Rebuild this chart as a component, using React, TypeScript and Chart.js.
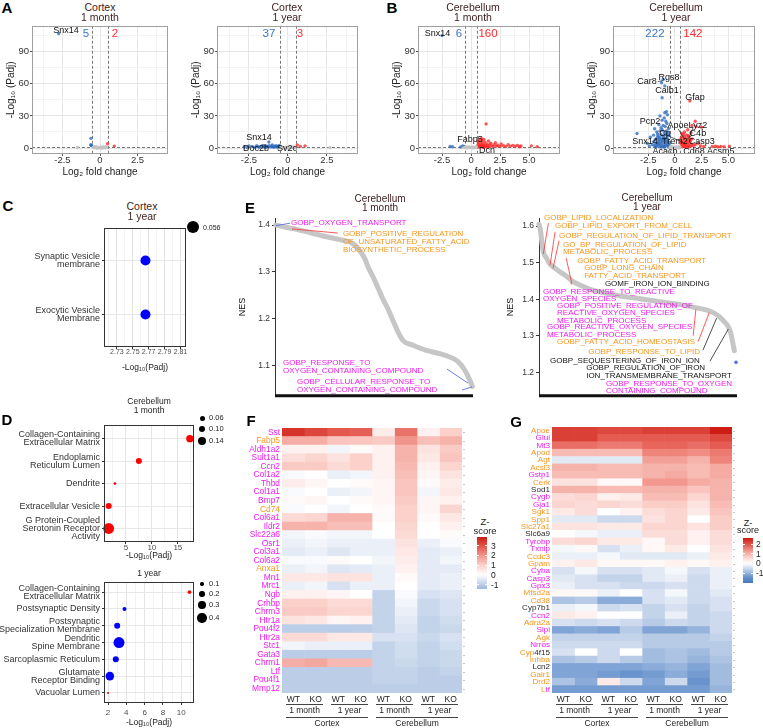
import React, { useEffect, useRef } from 'react';
import { Chart, registerables } from 'chart.js';

Chart.register(...registerables);

const FONT = '"Liberation Sans", Arial, Helvetica, sans-serif';
Chart.defaults.font.family = FONT;
const MAG = '#ee1cee';
const ORA = '#f7961e';
const DARK = '#2a2a2a';
const TITLE = '#3b1d1d';
const BLUE_PT = 'rgba(48,108,188,0.78)';
const RED_PT = 'rgba(255,40,40,0.78)';
const GRAY_PT = '#c4c4c4';
const BLUE_TXT = '#3a78c4';
const RED_TXT = '#ff2d2d';

// ================= A / B : volcano data  [log2FC, -log10 Padj] =================
const A1_GRAY = [[-1.5,0.5],[-0.45,0.2],[-0.4,1.0],[-0.35,0.5],[-0.3,1.2],[-0.25,0.3],[-0.2,0.8],[-0.15,0.1],[-0.1,0.6],[-0.05,0.2],[0,0.4],[0.05,1.0],[0.1,0.1],[0.15,0.7],[0.2,0.3],[0.25,1.1],[0.3,0.5],[0.35,0.2],[0.4,0.9],[0.45,0.4],[-0.2,0],[0.1,0.05]];
const A1_BLUE = [[-2.75,107],[-0.6,9],[-0.62,3],[-0.58,2.5],[-0.55,2.2]];
const A1_RED = [[0.5,4],[0.95,1.8]];

const A2_GRAY = [[-0.45,0.3],[-0.35,0.8],[-0.25,0.2],[-0.15,0.5],[-0.05,0.1],[0.05,0.6],[0.15,0.2],[0.25,0.4],[0.35,0.9],[0.45,0.3],[2.7,0.3],[-0.3,0],[0.1,0]];
const A2_BLUE = [[-2.8,1.0],[-2.5,2.0],[-2.3,1.5],[-2.1,0.8],[-2.0,2.2],[-1.9,1.2],[-1.8,0.7],[-1.7,1.6],[-1.6,2.5],[-1.5,1.0],[-1.45,1.9],[-1.4,0.6],[-1.3,1.3],[-1.22,5.6],[-1.2,2.2],[-1.1,0.9],[-1.05,1.6],[-1.0,2.8],[-0.95,1.1],[-0.9,0.7],[-0.85,1.8],[-0.8,1.3],[-0.75,2.1],[-0.7,0.8],[-0.65,1.5],[-0.6,1.0],[-0.55,2.4],[-0.52,1.2],[-2.6,0.5],[-1.35,1.7]];
const A2_RED = [[0.6,2.8],[0.8,1.5],[1.1,2.0]];

const B1_GRAY = [[-0.45,0.3],[-0.4,0.9],[-0.3,0.5],[-0.2,1.1],[-0.1,0.2],[0,0.7],[0.1,0.4],[0.2,1.0],[0.3,0.2],[0.4,0.6],[0.45,1.2],[-0.35,0.1],[0.15,0.1],[-0.6,0.4]];
const B1_BLUE = [[-2.5,105],[-1.8,1.5],[-1.6,1.2],[-0.9,1.0],[-0.7,2.0],[-0.6,1.3]];
const B1_RED = [[0.55,1.5],[0.6,3.0],[0.65,5.0],[0.7,2.2],[0.75,7.5],[0.8,1.2],[0.85,4.0],[0.9,2.8],[0.95,6.0],[1.0,1.8],[1.05,3.5],[1.1,8.0],[1.15,2.4],[1.2,5.5],[1.3,22.5],[1.25,1.6],[1.35,3.8],[1.4,2.2],[1.5,6.5],[1.55,1.4],[1.6,3.0],[1.7,4.5],[1.8,2.0],[1.9,1.3],[2.0,3.2],[2.1,5.0],[2.2,1.8],[2.3,2.6],[2.5,1.5],[2.6,3.8],[2.8,2.2],[3.0,1.4],[3.2,3.0],[3.4,1.8],[3.6,2.5],[3.8,1.6],[4.0,2.4],[4.2,1.2],[4.3,1.9],[5.2,2.0],[5.7,1.3],[0.7,1.0],[1.0,0.9],[1.4,0.8],[0.58,6.5],[0.9,9.0],[1.1,0.7]];

const B2_GRAY = [[-0.45,0.5],[-0.3,1.2],[-0.2,0.3],[-0.1,0.8],[0,0.2],[0.1,1.0],[0.2,0.4],[0.3,0.9],[0.4,0.1],[-0.4,1.5],[0.45,1.1]];
const B2_BLUE = [[-1.1,64],[-1.25,61],[-0.95,58],[-1.2,47],[-0.8,34],[-0.95,33],[-1.4,30],[-0.7,31],[-1.0,28],[-1.2,26],[-0.85,25],[-1.5,22],[-0.75,23],[-1.1,21],[-0.9,20],[-1.3,19],[-1.9,18],[-0.6,18],[-3.55,13.5],[-2.3,10],[-2.0,12],[-1.7,15],[-1.6,11],[-1.4,16],[-1.2,17],[-1.0,15],[-0.8,16],[-0.65,14],[-0.55,12],[-2.1,3],[-2.0,6],[-1.9,2],[-1.85,8],[-1.8,4],[-1.75,1.5],[-1.7,9],[-1.65,5],[-1.6,2.5],[-1.55,7],[-1.5,3.5],[-1.45,10],[-1.4,1.2],[-1.35,6],[-1.3,4],[-1.25,8.5],[-1.2,2],[-1.15,5.5],[-1.1,11],[-1.05,3],[-1.0,7],[-0.95,1.5],[-0.9,9],[-0.85,4.5],[-0.8,2.2],[-0.75,6.5],[-0.7,3.2],[-0.65,8],[-0.6,1.8],[-0.55,5],[-0.52,2.8],[-1.62,13],[-1.3,12.5],[-0.95,13],[-0.7,11],[-1.8,0.8],[-1.0,0.6],[-0.6,0.9],[-2.4,2],[-2.6,4.5],[-1.25,0.9],[-0.85,12.5],[-1.05,9.5],[-1.45,8.2],[-1.15,7.5],[-0.68,5.8],[-1.55,4.2]];
const B2_RED = [[1.4,44],[1.9,25],[2.0,20],[2.5,19.5],[1.6,21],[1.2,17],[0.9,15],[1.5,14],[0.8,13],[1.1,12],[0.7,11],[1.3,10],[0.6,9.5],[1.0,9],[1.6,8.5],[0.55,8],[0.85,7.5],[1.2,7],[1.45,6.5],[0.65,6],[1.0,5.5],[1.35,5],[0.75,4.5],[1.15,4],[1.55,3.5],[0.6,3],[0.95,2.8],[1.3,2.5],[1.7,2.2],[0.8,2],[1.1,1.7],[1.45,1.5],[0.7,1.2],[1.0,1],[1.25,0.9],[1.9,3],[2.2,4.5],[2.4,2],[2.7,1.5],[3.5,1.5],[3.8,1.8],[4.0,1.2],[4.3,1.5],[4.6,1.3],[5.1,1.8],[0.9,10.5],[1.25,11.5],[0.65,13.5],[1.05,6.2],[0.55,5],[1.4,8],[0.85,3.5]];

const VOLC_Y_MAJOR = [0, 30, 60, 90];
const VOLC_Y_MINOR = [15, 45, 75, 105];

// ================= C / D : enrichment dot plots =================
const C_TERMS = [['Synaptic Vesicle', 'membrane'], ['Exocytic Vesicle', 'Membrane']];
const C_LOGP = [2.766, 2.766];
const C_DIR = ['down', 'down'];

const D1_TERMS = [['Collagen-Containing', 'Extracellular Matrix'], ['Endoplamic', 'Reticulum Lumen'], ['Dendrite'], ['Extracellular Vesicle'], ['G Protein-Coupled', 'Serotonin Receptor', 'Activity']];
const D1_LOGP = [17.3, 7.5, 2.9, 1.7, 1.7];
const D1_RATIO = [0.117, 0.084, 0.005, 0.084, 0.2];
const D1_DIR = ['up', 'up', 'up', 'up', 'up'];

const D2_TERMS = [['Collagen-Containing', 'Extracellular Matrix'], ['Postsynaptic Density'], ['Postsynaptic', 'Specialization Membrane'], ['Dendritic', 'Spine Membrane'], ['Sarcoplasmic Reticulum'], ['Glutamate', 'Receptor Binding'], ['Vacuolar Lumen']];
const D2_LOGP = [10.9, 3.8, 3.0, 3.2, 2.85, 2.2, 2.0];
const D2_RATIO = [0.11, 0.13, 0.23, 0.48, 0.23, 0.36, 0.03];
const D2_DIR = ['up', 'down', 'down', 'down', 'down', 'down', 'up'];

// ================= E : ranked NES curves [rank, NES] =================
const E1_CURVE = [[3,1.400],[35,1.395],[65,1.391],[105,1.384],[155,1.375],[195,1.369],[235,1.360],[255,1.345],[270,1.328],[280,1.310],[295,1.289],[310,1.265],[325,1.241],[340,1.220],[355,1.195],[370,1.171],[385,1.153],[415,1.143],[455,1.132],[495,1.125],[525,1.118],[550,1.108],[570,1.090],[585,1.069],[593,1.055]];
const E1_BLUE = [[2,1.400],[593,1.055]];
const E1_RED = [[51,1.392]];

const E2_CURVE = [[0,1.605],[4,1.591],[7,1.569],[10,1.546],[14,1.526],[22,1.513],[32,1.497],[44,1.488],[62,1.475],[82,1.463],[102,1.448],[122,1.439],[152,1.427],[192,1.418],[242,1.409],[302,1.401],[362,1.393],[422,1.385],[472,1.376],[512,1.367],[537,1.354],[552,1.340],[567,1.323],[574,1.305],[579,1.282],[584,1.259]];
const E2_BLUE = [[589,1.227]];
const E2_RED = [[13,1.524],[33,1.493],[42,1.485],[98,1.444]];

// ================= F / G : heatmaps (z-scores) =================
const HEAT_SAMPLES = ['WT', 'KO', 'WT', 'KO', 'WT', 'KO', 'WT', 'KO'];
const HEAT_AGES = ['1 month', '1 year', '1 month', '1 year'];
const HEAT_REGIONS = ['Cortex', 'Cerebellum'];

const F_GENES = ['Sst','Fabp5','Aldh1a2','Sult1a1','Ccn2','Col1a2','Thbd','Col1a1','Bmp7','Cd74','Col6a1','Ildr2','Slc22a6','Osr1','Col3a1','Col6a2','Anxa1','Mn1','Mrc1','Ngb','Crhbp','Chrm3','Htr1a','Pou4f2','Htr2a','Stc1','Gata3','Chrm1','Ltf','Pou4f1','Mmp12'];
const F_LABEL_KEYS = ['m','o','m','m','m','m','m','m','m','o','m','m','m','m','m','m','o','m','m','m','m','m','m','m','m','m','m','m','m','m','m'];
const F_Z = [
  [3.5, 3.2, 2.9, 2.8, 0.4, 2.5, 0.3, 1.0],
  [1.6, 1.6, 1.2, 1.2, 1.1, 2.0, 1.3, 1.5],
  [0.3, 0.3, -0.2, 0.1, 0.3, 1.5, 0.6, 1.1],
  [0.7, 0.9, 0.6, 1.0, 0.3, 1.5, 0.5, 1.2],
  [1.1, 1.1, 0.8, 1.0, 0.3, 1.4, 0.3, 0.9],
  [-0.1, 0.0, -0.3, -0.2, 0.3, 1.3, 0.2, 0.6],
  [0.4, 0.2, 0.0, 0.1, 0.2, 1.2, 0.1, 0.4],
  [-0.1, 0.0, -0.3, -0.2, 0.2, 1.2, -0.2, 0.5],
  [0.1, 0.2, 0.0, 0.1, 0.2, 1.1, 0.2, 0.3],
  [-0.1, 0.0, -0.2, 0.0, 0.1, 1.0, 0.2, 0.9],
  [0.8, 0.9, 1.5, 1.5, 0.1, 1.0, 0.1, 0.5],
  [1.5, 1.5, 1.3, 1.3, 0.0, 0.9, 0.0, 0.3],
  [-0.2, -0.1, -0.2, -0.2, 0.0, 0.8, 0.0, 0.1],
  [-0.3, -0.2, -0.3, -0.3, -0.3, 0.6, -0.3, -0.1],
  [-0.4, -0.3, -0.5, -0.3, -0.3, 0.5, -0.4, -0.3],
  [-0.1, -0.1, 0.1, 0.0, -0.2, 0.4, -0.4, -0.2],
  [-0.3, -0.2, -0.5, -0.4, -0.3, 0.3, -0.4, -0.4],
  [0.5, 0.5, 0.6, 0.6, -0.3, 0.1, -0.4, -0.3],
  [-0.3, -0.2, -0.6, -0.3, -0.3, 0.0, -0.4, -0.3],
  [0.3, 0.3, 0.2, 0.0, -0.9, -0.1, -0.6, -0.5],
  [1.0, 1.0, 0.8, 0.8, -0.9, -0.2, -0.8, -0.6],
  [1.1, 1.1, 0.9, 0.9, -0.9, -0.3, -0.8, -0.6],
  [0.6, 0.5, 0.2, 0.3, -0.9, -0.4, -0.9, -0.7],
  [-1.0, -1.0, -1.0, -1.0, -0.9, -0.5, -0.9, -0.8],
  [0.8, 0.8, 0.5, 0.5, -0.6, -0.6, -0.8, -0.6],
  [-0.2, -0.3, -0.3, -0.3, -0.9, -0.7, -0.9, -0.7],
  [-1.0, -1.0, -1.0, -1.0, -0.9, -0.7, -0.9, -0.8],
  [1.6, 1.7, 1.4, 1.4, -0.9, -0.8, -0.9, -0.8],
  [-1.0, -1.0, -1.0, -1.0, -0.9, -0.9, -1.0, -0.9],
  [-1.0, -1.0, -1.0, -1.0, -0.9, -0.9, -1.0, -1.0],
  [-1.0, -1.0, -1.0, -1.0, -1.0, -1.0, -1.0, -1.0],
];

const G_GENES = ['Apoe','Glul','Mt3','Apod','Agt','Acsl3','Gstp1','Cerk','Sod1','Cygb','Gja1','Sgk1','Spp1','Slc27a1','Slc6a9','Tyrobp','Txnip','Ccdc3','Gpam','Cyba','Casp3','Gpx3','Mfsd2a','Cd38','Cyp7b1','Ccn2','Adra2a','Slpi','Agk','Nrros','Cyp4f15','Inhba','Lcn2','Galr1','Drd2','Ltf'];
const G_LABEL_KEYS: any[] = ['o','m','m','o','o','o','m','o','k','m','m','o','o','o','k','m','m','o','o','m','m','m','o','o','k','m','o','m','o','m',[['Cyp','o'],['4f15','k']],'o','k','o','o',[['L','o'],['tf','m']]];
const G_Z = [
  [2.2, 2.2, 2.1, 2.1, 2.2, 2.2, 2.2, 2.6],
  [2.2, 2.2, 1.9, 1.9, 1.9, 1.9, 1.9, 2.1],
  [1.7, 1.7, 1.6, 1.6, 1.8, 1.8, 1.7, 1.9],
  [0.9, 0.9, 0.9, 0.9, 1.5, 1.5, 1.4, 1.6],
  [-0.3, -0.3, -0.3, -0.3, 1.2, 1.2, 1.0, 1.5],
  [1.0, 1.0, 0.9, 0.9, 1.0, 1.0, 0.9, 1.1],
  [0.9, 0.9, 0.9, 0.9, 1.0, 1.1, 0.9, 1.1],
  [0.4, 0.4, 0.1, 0.1, 1.3, 1.3, 1.1, 1.0],
  [1.0, 1.0, 0.9, 0.9, 1.0, 1.0, 0.8, 1.0],
  [0.5, 0.6, 0.2, 0.3, 0.9, 0.9, 0.6, 1.0],
  [0.6, 0.5, 0.6, 0.5, 0.7, 0.7, 0.4, 0.9],
  [0.3, 0.5, 0.0, 0.2, 0.5, 0.6, 0.3, 0.8],
  [-0.3, -0.3, -0.5, -0.5, 0.4, 0.6, 0.0, 0.7],
  [0.4, 0.4, 0.3, 0.3, 0.6, 0.6, 0.4, 0.7],
  [0.0, -0.1, -0.2, -0.2, 0.5, 0.5, 0.2, 0.5],
  [0.5, 0.6, 0.3, 0.3, 0.1, 0.5, 0.2, 0.5],
  [-0.1, 0.1, -0.4, -0.2, 0.1, 0.3, 0.0, 0.4],
  [-0.2, -0.2, -0.1, -0.3, -0.3, -0.3, -0.2, 0.3],
  [0.2, 0.3, 0.1, 0.1, 0.1, 0.2, 0.1, 0.2],
  [-0.4, -0.1, -0.4, -0.4, -0.3, -0.1, -0.4, -0.2],
  [-0.3, -0.4, -0.6, -0.6, -0.3, -0.2, -0.5, -0.2],
  [-0.2, -0.4, -0.4, -0.5, -0.5, -0.4, -0.5, -0.2],
  [0.1, 0.1, -0.2, 0.0, -0.4, -0.1, -0.5, -0.3],
  [-0.8, -0.7, -1.1, -1.1, -0.4, -0.3, -0.5, -0.4],
  [-0.2, -0.1, -0.5, -0.4, -0.6, -0.4, -0.6, -0.4],
  [0.3, 0.2, 0.0, 0.0, -0.6, -0.2, -0.6, -0.5],
  [-0.4, -0.5, -0.4, -0.5, -0.7, -0.5, -0.6, -0.5],
  [-1.2, -1.1, -1.2, -0.7, -1.2, -1.2, -1.0, -0.5],
  [-0.6, -0.6, -0.6, -0.6, -0.7, -0.7, -0.7, -0.6],
  [-0.5, -0.5, -0.5, -0.5, -0.7, -0.7, -0.7, -0.7],
  [-0.4, 0.0, -0.5, 0.0, -0.9, -0.8, -0.9, -0.7],
  [-0.8, -0.7, -0.5, -0.7, -0.9, -0.8, -1.0, -0.8],
  [-1.2, -1.2, -1.2, -1.2, -1.1, -1.0, -1.2, -0.9],
  [-1.2, -1.2, -1.3, -1.4, -1.3, -1.1, -1.3, -0.9],
  [-0.8, -1.1, 0.3, -0.5, -1.2, -0.5, -1.4, -0.9],
  [-1.3, -1.3, -1.3, -1.3, -1.3, -1.3, -1.3, -1.0],
];

// ================= helpers =================
const toXY = (arr: number[][]) => arr.map(([x, y]) => ({ x, y }));
const KEY_COLOR: any = { m: MAG, o: ORA, k: DARK };

const DIV_STOPS: [number, number[]][] = [
  [-1, [40, 100, 175]],
  [-0.55, [102, 145, 203]],
  [-0.4, [146, 177, 220]],
  [-0.25, [190, 207, 232]],
  [0, [255, 255, 255]],
  [0.25, [251, 210, 204]],
  [0.5, [242, 152, 143]],
  [0.75, [228, 86, 76]],
  [1, [204, 28, 20]],
];
function zColor(z: number, extent: number) {
  const t = Math.max(-1, Math.min(1, z / extent));
  for (let i = 1; i < DIV_STOPS.length; i++) {
    const [t1, c1] = DIV_STOPS[i];
    if (t <= t1) {
      const [t0, c0] = DIV_STOPS[i - 1];
      const f = (t - t0) / (t1 - t0);
      return `rgb(${c0.map((v, k) => Math.round(v + (c1[k] - v) * f)).join(',')})`;
    }
  }
  return 'rgb(204,28,20)';
}

function framePlugin(color: string) {
  return {
    id: 'frame',
    afterDraw(chart: any) {
      const { ctx, chartArea: a } = chart;
      ctx.save();
      ctx.strokeStyle = color;
      ctx.lineWidth = 1;
      const l = Math.round(a.left) + 0.5, t = Math.round(a.top) + 0.5;
      ctx.strokeRect(l, t, Math.round(a.right) - Math.round(a.left) - 1, Math.round(a.bottom) - Math.round(a.top) - 1);
      ctx.restore();
    },
  };
}

function annotPlugin(items: any[]) {
  const run = (chart: any, layer: string) => {
    const { ctx, chartArea: a, scales } = chart;
    const X = (v: number) => scales.x.getPixelForValue(v);
    const Y = (v: number) => scales.y.getPixelForValue(v);
    ctx.save();
    for (const it of items) {
      if ((it.layer || 'top') !== layer) continue;
      ctx.setLineDash(it.dash || []);
      ctx.strokeStyle = it.color || '#000';
      ctx.lineWidth = it.width || 1;
      if (it.k === 'vline') {
        const p = Math.round(X(it.x)) + 0.5;
        ctx.beginPath(); ctx.moveTo(p, a.top); ctx.lineTo(p, a.bottom); ctx.stroke();
      } else if (it.k === 'hline') {
        const p = Math.round(Y(it.y)) + 0.5;
        ctx.beginPath(); ctx.moveTo(a.left, p); ctx.lineTo(a.right, p); ctx.stroke();
      } else if (it.k === 'baseline') {
        ctx.beginPath(); ctx.moveTo(a.left, a.bottom); ctx.lineTo(a.right, a.bottom); ctx.stroke();
      } else if (it.k === 'seg') {
        ctx.beginPath(); ctx.moveTo(X(it.x1), Y(it.y1)); ctx.lineTo(X(it.x2), Y(it.y2)); ctx.stroke();
      } else if (it.k === 'text') {
        ctx.fillStyle = it.color || '#111';
        ctx.font = `${it.weight || 'normal'} ${it.size || 8}px ${FONT}`;
        ctx.textAlign = it.align || 'left';
        ctx.textBaseline = 'middle';
        it.lines.forEach((l: string, i: number) => ctx.fillText(l, X(it.x), Y(it.y) + i * (it.lh || it.size || 8)));
      }
    }
    ctx.restore();
  };
  return {
    id: 'annot',
    beforeDatasetsDraw(c: any) { run(c, 'below'); },
    afterDraw(c: any) { run(c, 'top'); },
  };
}

const fmtFC = (v: number) => (v === 0 ? '0' : Number.isInteger(v) ? v.toFixed(1) : String(v));

function volcano(o: any) {
  const isXMaj = (v: number) => o.xMajor.includes(v);
  const isYMaj = (v: number) => VOLC_Y_MAJOR.includes(v);
  const dash = { layer: 'below', color: '#555', width: 0.8, dash: [3, 2] };
  const items = [
    { k: 'vline', x: -0.5, ...dash },
    { k: 'vline', x: 0.5, ...dash },
    { k: 'hline', y: 1.3, ...dash },
    ...o.segs.map((s: number[]) => ({ k: 'seg', x1: s[0], y1: s[1], x2: s[2], y2: s[3], color: '#222', width: 0.7 })),
    ...o.labels.map((l: any[]) => ({ k: 'text', x: l[1], y: l[2], lines: [l[0]], color: '#111', size: 9, align: 'center' })),
    { k: 'text', x: o.nDown[1], y: 106.8, lines: [o.nDown[0]], color: BLUE_TXT, size: 11.5, align: 'center' },
    { k: 'text', x: o.nUp[1], y: 106.8, lines: [o.nUp[0]], color: RED_TXT, size: 11.5, align: 'center' },
  ];
  const ds = (d: number[][], c: string) => ({ data: toXY(d), pointRadius: 1.7, pointBackgroundColor: c, pointBorderWidth: 0 });
  const tickFont = { family: FONT, size: 9.5, lineHeight: 1 };
  const gridCol = (isMaj: (v: number) => boolean) => (c: any) => (c.tick && isMaj(c.tick.value) ? '#e6e6e6' : '#f3f3f3');
  const tickCol = (isMaj: (v: number) => boolean) => (c: any) => (c.tick && isMaj(c.tick.value) ? '#555' : 'rgba(0,0,0,0)');
  return {
    type: 'scatter',
    data: { datasets: [ds(o.gray, GRAY_PT), ds(o.blue, BLUE_PT), ds(o.red, RED_PT)] },
    options: {
      responsive: false, animation: false, events: [],
      layout: { autoPadding: false, padding: { left: 0, top: 5, right: o.padRight, bottom: 0 } },
      plugins: { legend: { display: false }, tooltip: { enabled: false } },
      scales: {
        x: {
          type: 'linear', min: o.xMin, max: o.xMax,
          afterBuildTicks: (s: any) => { s.ticks = [...o.xMajor, ...o.xMinor].map((v: number) => ({ value: v })); },
          afterFit: (s: any) => { s.height = 25; },
          ticks: { autoSkip: false, maxRotation: 0, minRotation: 0, padding: 0, color: '#333', font: tickFont, callback: (v: number) => (isXMaj(v) ? fmtFC(v) : '') },
          grid: { color: gridCol(isXMaj), tickLength: 2, tickColor: tickCol(isXMaj) },
          border: { display: false },
          title: { display: true, text: 'Log₂ fold change', color: '#222', font: { family: FONT, size: 10, lineHeight: 1 }, padding: { top: 0, bottom: 2 } },
        },
        y: {
          type: 'linear', min: -5.6, max: 114.2,
          afterBuildTicks: (s: any) => { s.ticks = [...VOLC_Y_MAJOR, ...VOLC_Y_MINOR].map((v) => ({ value: v })); },
          afterFit: (s: any) => { s.width = 32; },
          ticks: { autoSkip: false, padding: 1, color: '#333', font: tickFont, callback: (v: number) => (isYMaj(v) ? String(v) : '') },
          grid: { color: gridCol(isYMaj), tickLength: 2, tickColor: tickCol(isYMaj) },
          border: { display: false },
          title: { display: true, text: '-Log₁₀ (Padj)', color: '#222', font: { family: FONT, size: 10, lineHeight: 1 }, padding: { top: 6.5, bottom: 0 } },
        },
      },
    },
    plugins: [annotPlugin(items), framePlugin('#a0a0a0')],
  };
}

function dotPlot(o: any) {
  const n = o.names.length;
  const isMaj = (v: number) => o.xMajor.some((m: number) => Math.abs(m - v) < 1e-9);
  return {
    type: 'scatter',
    data: {
      datasets: [{
        data: o.xs.map((x: number, i: number) => ({ x, y: i + 1 })),
        pointRadius: o.rad,
        pointBackgroundColor: o.dirs.map((d: string) => (d === 'up' ? '#ff0000' : '#0000ff')),
        pointBorderWidth: 0,
        clip: false,
      }],
    },
    options: {
      responsive: false, animation: false, events: [],
      layout: { autoPadding: false, padding: { left: 0, top: 4, right: o.padRight, bottom: 0 } },
      plugins: { legend: { display: false }, tooltip: { enabled: false } },
      scales: {
        x: {
          type: 'linear', min: o.xMin, max: o.xMax,
          afterBuildTicks: (s: any) => { s.ticks = [...o.xMajor, ...o.xMinor].map((v: number) => ({ value: v })); },
          afterFit: (s: any) => { s.height = o.xH; },
          ticks: { autoSkip: false, maxRotation: 0, minRotation: 0, padding: o.tickPad, color: '#4d4d4d', font: { family: FONT, size: o.tickSize, lineHeight: 1 }, callback: (v: number) => (isMaj(v) ? o.fmt(v) : '') },
          grid: { color: (c: any) => (c.tick && isMaj(c.tick.value) ? '#e4e4e4' : '#f2f2f2'), tickLength: 2, tickColor: (c: any) => (c.tick && isMaj(c.tick.value) ? '#333' : 'rgba(0,0,0,0)') },
          border: { display: false },
          title: { display: true, text: '-Log₁₀(Padj)', color: '#222', font: { family: FONT, size: 8.5, lineHeight: 1 }, padding: { top: 0, bottom: 1 } },
        },
        y: {
          type: 'linear', min: 0.4, max: n + 0.6, reverse: true,
          afterBuildTicks: (s: any) => { s.ticks = o.names.map((_: any, i: number) => ({ value: i + 1 })); },
          afterFit: (s: any) => { s.width = 104 - (o.canvasLeftOffset || 0); },
          ticks: { autoSkip: false, padding: 2, color: '#333', font: { family: FONT, size: 9, lineHeight: 0.9 }, callback: (v: number) => o.names[v - 1] },
          grid: { color: '#e8e8e8', tickLength: 2, tickColor: '#333' },
          border: { display: false },
        },
      },
    },
    plugins: [framePlugin('#333')],
  };
}

function gsea(o: any) {
  return {
    type: 'scatter',
    data: {
      datasets: [
        { data: toXY(o.curve), showLine: true, borderColor: '#c6c6c6', borderWidth: 5, pointRadius: 0, cubicInterpolationMode: 'monotone', borderCapStyle: 'round', clip: false },
        { data: toXY(o.blue), pointRadius: 1.8, pointBackgroundColor: '#5a6ee0', pointBorderWidth: 0, clip: false },
        { data: toXY(o.red), pointRadius: 1.4, pointBackgroundColor: '#f04040', pointBorderWidth: 0, clip: false },
      ],
    },
    options: {
      responsive: false, animation: false, events: [],
      layout: { autoPadding: false, padding: { left: 0, top: 5, right: o.padRight, bottom: 4 } },
      plugins: { legend: { display: false }, tooltip: { enabled: false } },
      scales: {
        x: { type: 'linear', display: false, min: 0, max: o.xMax },
        y: {
          type: 'linear', min: o.yMin, max: o.yMax,
          afterBuildTicks: (s: any) => { s.ticks = o.yTicks.map((v: number) => ({ value: v })); },
          afterFit: (s: any) => { s.width = o.yW; },
          ticks: { padding: 2, color: '#333', font: { family: FONT, size: 8.5, lineHeight: 1 }, callback: (v: number) => v.toFixed(1) },
          grid: { drawOnChartArea: false, tickLength: 3, color: '#333', tickColor: '#333' },
          border: { display: true, color: '#333', width: 1 },
          title: { display: true, text: 'NES', color: '#111', font: { family: FONT, size: 9, lineHeight: 1 }, padding: { top: o.titlePad, bottom: 0 } },
        },
      },
    },
    plugins: [annotPlugin([...o.items, { k: 'baseline', color: '#111', width: 3 }])],
  };
}

function heatLabelPlugin(o: any) {
  return {
    id: 'heatlab',
    afterDraw(chart: any) {
      const { ctx, chartArea: a, scales } = chart;
      const X = (v: number) => scales.x.getPixelForValue(v);
      ctx.save();
      ctx.textBaseline = 'middle';
      ctx.font = `${o.labelSize}px ${FONT}`;
      o.genes.forEach((g: string, i: number) => {
        const y = scales.y.getPixelForValue(i);
        const key = o.keys[i];
        const segs = Array.isArray(key) ? key : [[g, key]];
        const w = segs.reduce((s: number, sg: any) => s + ctx.measureText(sg[0]).width, 0);
        let x = a.left - 2 - w;
        ctx.textAlign = 'left';
        for (const [t, c] of segs) {
          ctx.fillStyle = KEY_COLOR[c];
          ctx.fillText(t, x, y);
          x += ctx.measureText(t).width;
        }
        ctx.strokeStyle = '#c8c8c8';
        ctx.lineWidth = 1;
        ctx.beginPath(); ctx.moveTo(a.right + 1, Math.round(y) + 0.5); ctx.lineTo(a.right + 3, Math.round(y) + 0.5); ctx.stroke();
      });
      ctx.font = `8.5px ${FONT}`;
      ctx.fillStyle = '#222';
      ctx.textAlign = 'center';
      ctx.strokeStyle = '#444';
      ctx.lineWidth = 1;
      HEAT_SAMPLES.forEach((t, j) => ctx.fillText(t, X(j + 0.5), a.bottom + 6.5));
      HEAT_AGES.forEach((t, p) => {
        const y = Math.round(a.bottom + 11) + 0.5;
        ctx.beginPath(); ctx.moveTo(X(2 * p) + 4, y); ctx.lineTo(X(2 * p + 2) - 4, y); ctx.stroke();
        ctx.fillText(t, X(2 * p + 1), a.bottom + 18);
      });
      HEAT_REGIONS.forEach((t, r) => {
        const y = Math.round(a.bottom + 24) + 0.5;
        ctx.beginPath(); ctx.moveTo(X(4 * r) + 4, y); ctx.lineTo(X(4 * r + 4) - 4, y); ctx.stroke();
        ctx.fillText(t, X(4 * r + 2), a.bottom + 30.5);
      });
      ctx.restore();
    },
  };
}

function heatmap(o: any) {
  const datasets = HEAT_SAMPLES.map((s, j) => ({
    label: `${HEAT_REGIONS[j < 4 ? 0 : 1]} ${HEAT_AGES[Math.floor(j / 2)]} ${s}`,
    data: o.genes.map(() => 1),
    backgroundColor: o.z.map((row: number[]) => zColor(row[j], o.extent)),
    borderWidth: 0,
    barPercentage: 1,
    categoryPercentage: 1,
  }));
  return {
    type: 'bar',
    data: { labels: o.genes, datasets },
    options: {
      indexAxis: 'y', responsive: false, animation: false, events: [],
      layout: { autoPadding: false, padding: { left: 57, top: o.padTop, right: 8, bottom: 35 } },
      plugins: { legend: { display: false }, tooltip: { enabled: false } },
      scales: {
        x: { type: 'linear', stacked: true, min: 0, max: 8, display: false },
        y: { type: 'category', stacked: true, display: false },
      },
    },
    plugins: [heatLabelPlugin(o)],
  };
}

// ================= chart configs =================
const cfgA1 = () => volcano({
  xMin: -4.53, xMax: 4.53, xMajor: [-2.5, 0, 2.5], xMinor: [-3.75, -1.25, 1.25, 3.75], padRight: 7,
  gray: A1_GRAY, blue: A1_BLUE, red: A1_RED,
  labels: [['Snx14', -2.27, 109.6]], segs: [], nDown: ['5', -0.93], nUp: ['2', 1.0],
});
const cfgA2 = () => volcano({
  xMin: -4.55, xMax: 4.5, xMajor: [-2.5, 0, 2.5], xMinor: [-3.75, -1.25, 1.25, 3.75], padRight: 7,
  gray: A2_GRAY, blue: A2_BLUE, red: A2_RED,
  labels: [['Snx14', -1.86, 10.2], ['Doc2b', -2.05, -0.9], ['Sv2c', -0.06, -0.9]], segs: [], nDown: ['37', -1.22], nUp: ['3', 0.77],
});
const cfgB1 = () => volcano({
  xMin: -4.57, xMax: 7.67, xMajor: [-2.5, 0, 2.5, 5], xMinor: [-3.75, -1.25, 1.25, 3.75, 6.25], padRight: 6,
  gray: B1_GRAY, blue: B1_BLUE, red: B1_RED,
  labels: [['Snx14', -2.89, 106.5], ['Fabp5', -0.09, 8.1], ['Dcn', 1.38, -2.8]], segs: [], nDown: ['6', -1.03], nUp: ['160', 1.47],
});
const cfgB2 = () => volcano({
  xMin: -5.8, xMax: 7.5, xMajor: [-2.5, 0, 2.5, 5], xMinor: [-3.75, -1.25, 1.25, 3.75, 6.25], padRight: 8,
  gray: B2_GRAY, blue: B2_BLUE, red: B2_RED,
  labels: [['Car8', -2.62, 62.2], ['Rgs8', -0.56, 65.9], ['Calb1', -0.75, 53.9], ['Gfap', 1.87, 47.4], ['Pcp2', -2.34, 25.1], ['Apoe', 0.28, 21.4], ['Lyz2', 2.15, 21.4], ['Cp', -0.93, 13.9], ['C4b', 2.15, 13.9], ['Snx14', -2.8, 5.6], ['Trem2', 0.0, 5.6], ['Casp3', 2.52, 5.6], ['Acacb', -0.93, -3.7], ['Cd68', 1.78, -3.7], ['Acsm5', 4.3, -3.7]],
  segs: [[-1.6, 62, -1.15, 63], [-0.55, 11, 0.8, 5], [0.3, 18, 0.9, 8], [1.6, 12, 1.1, 8], [1.7, 19, 1.35, 10]],
  nDown: ['222', -1.87], nUp: ['142', 1.68],
});

const cfgC = () => dotPlot({
  names: C_TERMS, xs: C_LOGP, dirs: C_DIR, rad: 5,
  xMin: 2.7138, xMax: 2.817, xMajor: [2.73, 2.75, 2.77, 2.79, 2.81], xMinor: [2.72, 2.74, 2.76, 2.78, 2.80],
  fmt: (v: number) => v.toFixed(2), tickSize: 7, tickPad: 0, xH: 26, padRight: 14, canvasLeftOffset: 7,
});
const cfgD1 = () => dotPlot({
  names: D1_TERMS, xs: D1_LOGP, dirs: D1_DIR, rad: D1_RATIO.map((r) => 1.24 + 21 * r),
  xMin: 0.8, xMax: 18.1, xMajor: [5, 10, 15], xMinor: [2.5, 7.5, 12.5, 17.5],
  fmt: (v: number) => String(v), tickSize: 8, tickPad: 0, xH: 19, padRight: 6,
});
const cfgD2 = () => dotPlot({
  names: D2_TERMS, xs: D2_LOGP, dirs: D2_DIR, rad: D2_RATIO.map((r) => 0.7 + 10 * r),
  xMin: 1.56, xMax: 11.4, xMajor: [2, 4, 6, 8, 10], xMinor: [3, 5, 7, 9, 11],
  fmt: (v: number) => String(v), tickSize: 8, tickPad: 4, xH: 25, padRight: 6,
});

const E1_ITEMS = [
  { k: 'seg', x1: 3, y1: 1.399, x2: 45, y2: 1.404, color: '#4a5ee0', width: 0.8 },
  { k: 'seg', x1: 51, y1: 1.392, x2: 189, y2: 1.383, color: '#ff3030', width: 0.8 },
  { k: 'seg', x1: 517, y1: 1.092, x2: 580, y2: 1.062, color: '#4a5ee0', width: 0.8 },
  { k: 'seg', x1: 562, y1: 1.047, x2: 592, y2: 1.054, color: '#4a5ee0', width: 0.8 },
  { k: 'text', x: 48, y: 1.404, lines: ['GOBP_OXYGEN_TRANSPORT'], color: MAG, size: 8, lh: 8 },
  { k: 'text', x: 204, y: 1.381, lines: ['GOBP_POSITIVE_REGULATION', 'OF_UNSATURATED_FATTY_ACID', 'BIOSYNTHETIC_PROCESS'], color: ORA, size: 8, lh: 8 },
  { k: 'text', x: 24, y: 1.106, lines: ['GOBP_RESPONSE_TO', 'OXYGEN_CONTAINING_COMPOUND'], color: MAG, size: 8, lh: 8 },
  { k: 'text', x: 66, y: 1.064, lines: ['GOBP_CELLULAR_RESPONSE_TO', 'OXYGEN_CONTAINING_COMPOUND'], color: MAG, size: 8, lh: 8 },
];
const E2_ITEMS = [
  { k: 'seg', x1: 13, y1: 1.524, x2: 28, y2: 1.608, color: '#ff3030', width: 0.8 },
  { k: 'seg', x1: 33, y1: 1.493, x2: 48, y2: 1.584, color: '#ff3030', width: 0.8 },
  { k: 'seg', x1: 42, y1: 1.485, x2: 60, y2: 1.560, color: '#ff3030', width: 0.8 },
  { k: 'seg', x1: 98, y1: 1.444, x2: 81, y2: 1.513, color: '#ff3030', width: 0.8 },
  { k: 'seg', x1: 469, y1: 1.372, x2: 461, y2: 1.300, color: '#ff3030', width: 0.8 },
  { k: 'seg', x1: 509, y1: 1.363, x2: 476, y2: 1.284, color: '#ff3030', width: 0.8 },
  { k: 'seg', x1: 531, y1: 1.348, x2: 490, y2: 1.260, color: '#222', width: 0.8 },
  { k: 'seg', x1: 566, y1: 1.318, x2: 511, y2: 1.230, color: '#222', width: 0.8 },
  { k: 'text', x: 15, y: 1.624, lines: ['GOBP_LIPID_LOCALIZATION'], color: ORA, size: 8 },
  { k: 'text', x: 48, y: 1.600, lines: ['GOBP_LIPID_EXPORT_FROM_CELL'], color: ORA, size: 8 },
  { k: 'text', x: 60, y: 1.573, lines: ['GOBP_REGULATION_OF_LIPID_TRANSPORT'], color: ORA, size: 8 },
  { k: 'text', x: 72, y: 1.549, lines: ['GO_BP_REGULATION_OF_LIPID', 'METABOLIC_PROCESS'], color: ORA, size: 8, lh: 7.3 },
  { k: 'text', x: 114, y: 1.506, lines: ['GOBP_FATTY_ACID_TRANSPORT'], color: ORA, size: 8 },
  { k: 'text', x: 135, y: 1.485, lines: ['GOBP_LONG_CHAIN', 'FATTY_ACID_TRANSPORT'], color: ORA, size: 8, lh: 7.3 },
  { k: 'text', x: 197, y: 1.442, lines: ['GOMF_IRON_ION_BINDING'], color: '#111', size: 8 },
  { k: 'text', x: 12, y: 1.420, lines: ['GOBP_RESPONSE_TO_REACTIVE', 'OXYGEN_SPECIES'], color: MAG, size: 8, lh: 7.3 },
  { k: 'text', x: 54, y: 1.383, lines: ['GOBP_POSITIVE_REGULATION_OF', 'REACTIVE_OXYGEN_SPECIES', 'METABOLIC_PROCESS'], color: MAG, size: 8, lh: 7.5 },
  { k: 'text', x: 24, y: 1.323, lines: ['GOBP_REACTIVE_OXYGEN_SPECIES', 'METABOLIC_PROCESS'], color: MAG, size: 8, lh: 7.3 },
  { k: 'text', x: 54, y: 1.283, lines: ['GOBP_FATTY_ACID_HOMEOSTASIS'], color: ORA, size: 8 },
  { k: 'text', x: 147, y: 1.256, lines: ['GOBP_RESPONSE_TO_LIPID'], color: ORA, size: 8 },
  { k: 'text', x: 33, y: 1.230, lines: ['GOBP_SEQUESTERING_OF_IRON_ION'], color: '#111', size: 8 },
  { k: 'text', x: 141, y: 1.211, lines: ['GOBP_REGULATION_OF_IRON', 'ION_TRANSMEMBRANE_TRANSPORT'], color: '#111', size: 8, lh: 7.3 },
  { k: 'text', x: 200, y: 1.168, lines: ['GOBP_RESPONSE_TO_OXYGEN', 'CONTAINING_COMPOUND'], color: MAG, size: 8, lh: 7.3 },
];

const cfgE1 = () => gsea({
  curve: E1_CURVE, blue: E1_BLUE, red: E1_RED, items: E1_ITEMS,
  xMax: 595, yMin: 1.035, yMax: 1.4147, yTicks: [1.1, 1.2, 1.3, 1.4], yW: 40, titlePad: 3.5, padRight: 7,
});
const cfgE2 = () => gsea({
  curve: E2_CURVE, blue: E2_BLUE, red: E2_RED, items: E2_ITEMS,
  xMax: 592, yMin: 1.1356, yMax: 1.6215, yTicks: [1.2, 1.3, 1.4, 1.5, 1.6], yW: 39, titlePad: 6.5, padRight: 26,
});

const cfgF = () => heatmap({ genes: F_GENES, keys: F_LABEL_KEYS, z: F_Z, extent: 3.9, padTop: 4, labelSize: 8.4 });
const cfgG = () => heatmap({ genes: G_GENES, keys: G_LABEL_KEYS, z: G_Z, extent: 2.6, padTop: 3, labelSize: 8.1 });

// ================= React components =================
function ChartBox({ x, y, w, h, cfg }: any) {
  const ref = useRef<HTMLCanvasElement>(null);
  useEffect(() => {
    const chart = new Chart(ref.current as HTMLCanvasElement, cfg());
    return () => chart.destroy();
  }, []);
  return <canvas ref={ref} width={w} height={h} style={{ position: 'absolute', left: x, top: y, width: w, height: h }} />;
}

function Txt({ x, y, s, size = 10, color = '#111', align = 'center', weight = 400 }: any) {
  const tx = align === 'center' ? '-50%' : align === 'right' ? '-100%' : '0';
  return (
    <div style={{ position: 'absolute', left: x, top: y, transform: `translate(${tx}, -50%)`, fontSize: size, lineHeight: 1, fontFamily: FONT, color, fontWeight: weight, whiteSpace: 'nowrap' }}>{s}</div>
  );
}

function Dot({ x, y, r, color = '#000' }: any) {
  return <div style={{ position: 'absolute', left: x - r, top: y - r, width: 2 * r, height: 2 * r, borderRadius: '50%', background: color }} />;
}

function ColorBar({ x, y, w, h, zTop, zBot, extent, ticks, labelX }: any) {
  const stops: string[] = [];
  for (let i = 0; i <= 24; i++) {
    const z = zTop - ((zTop - zBot) * i) / 24;
    stops.push(`${zColor(z, extent)} ${((i / 24) * 100).toFixed(1)}%`);
  }
  const py = (z: number) => y + ((zTop - z) / (zTop - zBot)) * h;
  return (
    <>
      <div style={{ position: 'absolute', left: x, top: y, width: w, height: h, background: `linear-gradient(to bottom, ${stops.join(',')})` }} />
      {ticks.map((t: number) => (
        <React.Fragment key={t}>
          <div style={{ position: 'absolute', left: x, top: py(t) - 0.5, width: 2, height: 1, background: '#fff' }} />
          <div style={{ position: 'absolute', left: x + w - 2, top: py(t) - 0.5, width: 2, height: 1, background: '#fff' }} />
          <Txt x={labelX} y={py(t)} s={String(t)} size={8.5} color="#222" align="left" />
        </React.Fragment>
      ))}
    </>
  );
}

export default function App() {
  return (
    <div style={{ position: 'absolute', left: 0, top: 0, width: 763, height: 728, overflow: 'hidden', background: '#fff', fontFamily: FONT }}>
      {/* A / B volcano plots */}
      <ChartBox x={0} y={20} w={175} h={159} cfg={cfgA1} />
      <ChartBox x={185} y={20} w={180} h={159} cfg={cfgA2} />
      <ChartBox x={386} y={20} w={180} h={159} cfg={cfgB1} />
      <ChartBox x={581} y={20} w={182} h={159} cfg={cfgB2} />
      {/* C / D */}
      <ChartBox x={7} y={218} w={193} h={155} cfg={cfgC} />
      <ChartBox x={0} y={411} w={200} h={150} cfg={cfgD1} />
      <ChartBox x={0} y={576} w={200} h={152} cfg={cfgD2} />
      {/* E */}
      <ChartBox x={235} y={212} w={245} h={190} cfg={cfgE1} />
      <ChartBox x={500} y={212} w={263} h={190} cfg={cfgE2} />
      {/* F / G */}
      <ChartBox x={225} y={424} w={245} h={304} cfg={cfgF} />
      <ChartBox x={495} y={424} w={245} h={304} cfg={cfgG} />

      {/* panel letters */}
      <Txt x={7} y={7} s="A" size={15} weight={700} color="#000" />
      <Txt x={392} y={6.5} s="B" size={15} weight={700} color="#000" />
      <Txt x={8} y={205} s="C" size={15} weight={700} color="#000" />
      <Txt x={7} y={419} s="D" size={15} weight={700} color="#000" />
      <Txt x={250} y={207} s="E" size={15} weight={700} color="#000" />
      <Txt x={251} y={420} s="F" size={15} weight={700} color="#000" />
      <Txt x={516} y={421} s="G" size={15} weight={700} color="#000" />

      {/* titles */}
      <Txt x={100} y={6.5} s="Cortex" size={10.5} color={TITLE} />
      <Txt x={100} y={17} s="1 month" size={10.5} color={TITLE} />
      <Txt x={287} y={6.5} s="Cortex" size={10.5} color={TITLE} />
      <Txt x={287} y={17} s="1 year" size={10.5} color={TITLE} />
      <Txt x={473} y={6.5} s="Cerebellum" size={10.5} color={TITLE} />
      <Txt x={473} y={17} s="1 month" size={10.5} color={TITLE} />
      <Txt x={676} y={6.5} s="Cerebellum" size={10.5} color={TITLE} />
      <Txt x={676} y={17} s="1 year" size={10.5} color={TITLE} />
      <Txt x={142} y={206} s="Cortex" size={10.5} color={TITLE} />
      <Txt x={142} y={215.5} s="1 year" size={10.5} color={TITLE} />
      <Txt x={380} y={199} s="Cerebellum" size={10} color={TITLE} />
      <Txt x={380} y={208} s="1 month" size={10} color={TITLE} />
      <Txt x={647} y={198} s="Cerebellum" size={10} color={TITLE} />
      <Txt x={647} y={207} s="1 year" size={10} color={TITLE} />
      <Txt x={149} y={401} s="Cerebellum" size={8.5} color="#222" />
      <Txt x={149} y={409.5} s="1 month" size={8.5} color="#222" />
      <Txt x={149} y={573} s="1 year" size={8.5} color="#222" />

      {/* C legend */}
      <Dot x={193} y={227} r={6} />
      <Txt x={203} y={227} s="0.056" size={7} color="#222" align="left" />
      {/* D legends */}
      <Dot x={202} y={418} r={2.5} />
      <Dot x={202} y={429} r={3.3} />
      <Dot x={202} y={441} r={4.2} />
      <Txt x={209} y={418} s="0.06" size={7.5} color="#222" align="left" />
      <Txt x={209} y={429} s="0.10" size={7.5} color="#222" align="left" />
      <Txt x={209} y={441} s="0.14" size={7.5} color="#222" align="left" />
      <Dot x={202} y={584} r={1.7} />
      <Dot x={202} y={594} r={2.7} />
      <Dot x={202} y={605} r={3.7} />
      <Dot x={202} y={618} r={4.7} />
      <Txt x={209} y={584} s="0.1" size={7.5} color="#222" align="left" />
      <Txt x={209} y={594} s="0.2" size={7.5} color="#222" align="left" />
      <Txt x={209} y={605} s="0.3" size={7.5} color="#222" align="left" />
      <Txt x={209} y={618} s="0.4" size={7.5} color="#222" align="left" />

      {/* F legend */}
      <Txt x={485} y={522} s="Z-" size={9.5} color="#222" />
      <Txt x={485} y={531} s="score" size={9.5} color="#222" />
      <ColorBar x={477} y={537} w={10} h={52} zTop={3.9} zBot={-1.45} extent={3.9} ticks={[3, 2, 1, 0, -1]} labelX={491} />
      {/* G legend */}
      <Txt x={748} y={522.5} s="Z-" size={9} color="#222" />
      <Txt x={748} y={529.5} s="score" size={9} color="#222" />
      <ColorBar x={743} y={538} w={10} h={45} zTop={2.62} zBot={-2.03} extent={2.6} ticks={[2, 1, 0, -1]} labelX={756} />
    </div>
  );
}
